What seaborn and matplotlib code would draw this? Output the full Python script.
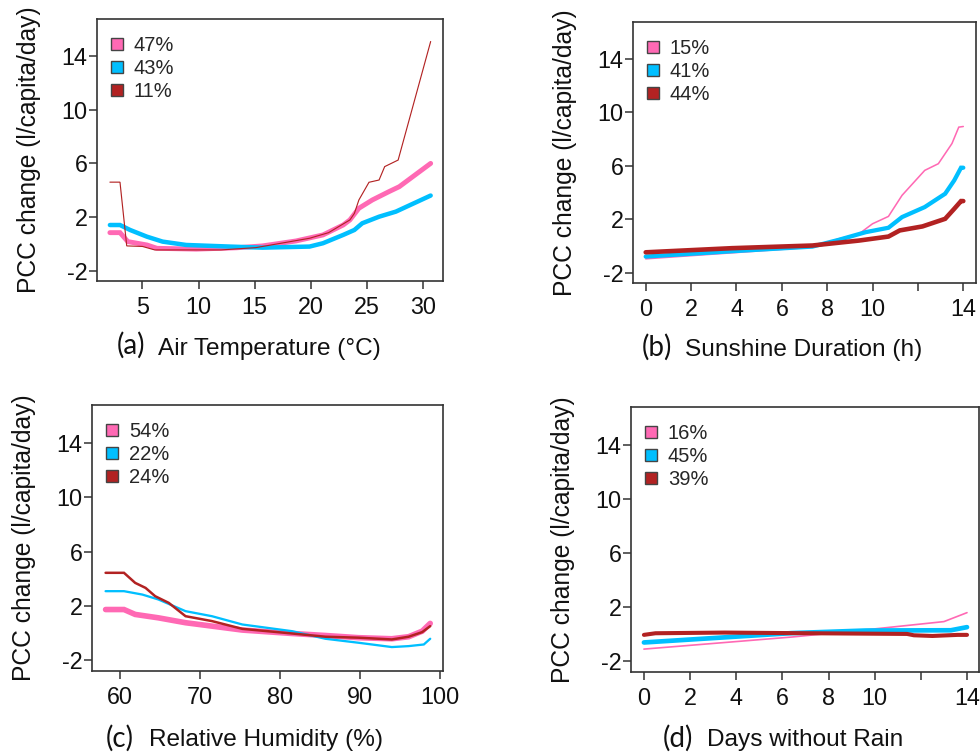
import matplotlib
matplotlib.use("Agg")
import matplotlib.pyplot as plt
from matplotlib.lines import Line2D
import pandas as pd
import seaborn as sns

# ---- (a) air temperature -------------------------------------------------
a_shares = [47, 43, 11]
a_pink_x = [2.1, 3.0, 3.7, 5.4, 6.3, 9.8, 13.4, 15.7, 18.7, 21.1, 22.9, 23.5, 24.3, 25.5, 27.0, 27.9, 30.7]
a_pink_y = [0.83, 0.83, 0.16, -0.09, -0.34, -0.40, -0.30, -0.16, 0.21, 0.66, 1.40, 1.78, 2.65, 3.27, 3.90, 4.26, 6.0]
a_blue_x = [2.1, 3.0, 3.9, 5.4, 6.8, 8.9, 12.8, 15.7, 19.9, 21.1, 22.9, 23.9, 24.6, 26.1, 27.6, 30.7]
a_blue_y = [1.40, 1.40, 1.03, 0.53, 0.16, -0.09, -0.21, -0.29, -0.21, 0.04, 0.66, 1.03, 1.53, 2.02, 2.40, 3.60]
a_red_x = [2.1, 3.0, 3.6, 5.0, 6.1, 12.0, 15.1, 19.9, 21.6, 23.5, 23.9, 24.3, 25.2, 26.1, 26.6, 27.8, 30.7]
a_red_y = [4.6, 4.6, -0.16, -0.2, -0.46, -0.46, -0.29, 0.41, 0.83, 1.78, 2.27, 3.27, 4.59, 4.76, 5.76, 6.25, 15.1]
a_ticks = [5, 10, 15, 20, 25, 30]
a_ticklabels = ["5", "10", "15", "20", "25", "30"]

# ---- (b) sunshine duration -----------------------------------------------
b_shares = [15, 41, 44]
b_pink_x = [0, 7.35, 8.5, 9.4, 10.0, 10.7, 11.3, 12.3, 12.9, 13.5, 13.8, 14.0]
b_pink_y = [-0.97, -0.10, 0.53, 0.90, 1.66, 2.21, 3.79, 5.66, 6.16, 7.67, 8.90, 8.95]
b_blue_x = [0, 3.8, 7.35, 8.5, 9.7, 10.7, 11.3, 12.3, 13.2, 13.6, 13.9, 14.0]
b_blue_y = [-0.80, -0.40, -0.05, 0.45, 1.03, 1.36, 2.16, 2.91, 3.91, 4.91, 5.86, 5.86]
b_red_x = [0, 3.8, 7.35, 9.4, 10.7, 11.2, 12.2, 13.2, 13.6, 13.9, 14.0]
b_red_y = [-0.48, -0.17, 0.03, 0.40, 0.70, 1.16, 1.46, 2.03, 2.78, 3.36, 3.36]
b_ticks = [0, 2, 4, 6, 8, 10, 12, 14]
b_ticklabels = ["0", "2", "4", "6", "8", "10", "", "14"]

# ---- (c) relative humidity -----------------------------------------------
c_shares = [54, 22, 24]
c_pink_x = [58.2, 60.5, 61.9, 64.8, 68.2, 71.5, 75.3, 81.5, 85.7, 89.8, 94.0, 96.1, 97.8, 98.8]
c_pink_y = [1.74, 1.74, 1.38, 1.13, 0.77, 0.52, 0.23, -0.02, -0.17, -0.33, -0.41, -0.26, 0.15, 0.72]
c_blue_x = [58.2, 60.5, 62.8, 64.8, 68.2, 71.5, 75.3, 81.5, 85.7, 89.8, 94.0, 96.1, 98.0, 98.8]
c_blue_y = [3.09, 3.09, 2.84, 2.48, 1.62, 1.25, 0.64, 0.15, -0.41, -0.70, -1.02, -0.95, -0.83, -0.41]
c_red_x = [58.2, 60.5, 61.9, 63.2, 64.4, 66.1, 68.2, 71.5, 75.3, 81.5, 85.7, 89.8, 94.0, 96.1, 97.8, 98.8]
c_red_y = [4.44, 4.44, 3.70, 3.33, 2.72, 2.23, 1.25, 0.89, 0.32, -0.02, -0.26, -0.33, -0.46, -0.26, 0.08, 0.52]
c_ticks = [60, 70, 80, 90, 100]
c_ticklabels = ["60", "70", "80", "90", "100"]

# ---- (d) days without rain -----------------------------------------------
d_shares = [16, 45, 39]
d_pink_x = [0, 6.4, 9.6, 13.0, 14.0]
d_pink_y = [-1.09, -0.20, 0.33, 0.94, 1.60]
d_blue_x = [0, 6.4, 9.6, 13.3, 14.0]
d_blue_y = [-0.60, 0.09, 0.28, 0.30, 0.53]
d_red_x = [0, 0.5, 3.5, 6.4, 11.4, 11.7, 12.5, 13.6, 14.0]
d_red_y = [-0.04, 0.08, 0.13, 0.09, 0.03, -0.07, -0.12, -0.04, -0.04]
d_ticks = [0, 2, 4, 6, 8, 10, 12, 14]
d_ticklabels = ["0", "2", "4", "6", "8", "10", "", "14"]

y_ticks = [-2, 2, 6, 10, 14]
y_label = "PCC change (l/capita/day)"
series_colors = ["#FF69B4", "#00BFFF", "#B22222"]

sns.set_theme(style="white")
plt.rcParams["font.family"] = ["Liberation Sans", "DejaVu Sans"]

W, H = 980, 755
fig = plt.figure(figsize=(W / 100, H / 100), dpi=100)


def px_box(left, top, right, bottom):
    return [left / W, 1 - bottom / H, (right - left) / W, (bottom - top) / H]


panels = [
    dict(box=(97, 19, 443, 281), shares=a_shares,
         xs=[a_pink_x, a_blue_x, a_red_x], ys=[a_pink_y, a_blue_y, a_red_y],
         ticks=a_ticks, ticklabels=a_ticklabels, xlim=(0.95, 31.8),
         tag="(a)", xlabel="Air Temperature (\u00b0C)", tag_xy=(117, 345), lab_xy=(158, 349)),
    dict(box=(633, 22, 976, 283), shares=b_shares,
         xs=[b_pink_x, b_blue_x, b_red_x], ys=[b_pink_y, b_blue_y, b_red_y],
         ticks=b_ticks, ticklabels=b_ticklabels, xlim=(-0.56, 14.56),
         tag="(b)", xlabel="Sunshine Duration (h)", tag_xy=(642, 347), lab_xy=(685, 350)),
    dict(box=(92, 405, 443, 671), shares=c_shares,
         xs=[c_pink_x, c_blue_x, c_red_x], ys=[c_pink_y, c_blue_y, c_red_y],
         ticks=c_ticks, ticklabels=c_ticklabels, xlim=(56.5, 100.4),
         tag="(c)", xlabel="Relative Humidity (%)", tag_xy=(106, 738), lab_xy=(149, 740)),
    dict(box=(631, 407, 979, 672), shares=d_shares,
         xs=[d_pink_x, d_blue_x, d_red_x], ys=[d_pink_y, d_blue_y, d_red_y],
         ticks=d_ticks, ticklabels=d_ticklabels, xlim=(-0.56, 14.52),
         tag="(d)", xlabel="Days without Rain", tag_xy=(663, 738), lab_xy=(707, 740)),
]

for p in panels:
    left, top, right, bottom = p["box"]
    w_px, h_px = right - left, bottom - top
    ax = fig.add_axes(px_box(*p["box"]))
    frames = []
    for i, (x, y) in enumerate(zip(p["xs"], p["ys"])):
        frames.append(pd.DataFrame({"x": x, "y": y, "series": i}))
    df = pd.concat(frames, ignore_index=True)
    # line width grows with the share of each cluster
    widths = {i: s * 0.075 for i, s in enumerate(p["shares"])}
    sns.lineplot(data=df, x="x", y="y", hue="series", size="series",
                 palette=dict(enumerate(series_colors)), sizes=widths,
                 estimator=None, sort=False, legend=False, ax=ax,
                 solid_joinstyle="miter")

    ax.set_xlim(*p["xlim"])
    ax.set_ylim(-2.78, 16.78)
    ax.set_xticks(p["ticks"])
    ax.set_xticklabels(p["ticklabels"])
    ax.set_yticks(y_ticks)
    ax.set_yticklabels([str(v) for v in y_ticks])
    ax.set_xlabel("")
    ax.set_ylabel(y_label, fontsize=17.7, va="center", color="#111111")
    ax.yaxis.set_label_coords(-68 / w_px, 0.5)
    for sp in ax.spines.values():
        sp.set_visible(True)
        sp.set_color("#333333")
        sp.set_linewidth(1.2)
    ax.tick_params(axis="both", direction="out", length=6, width=1.1,
                   color="#333333", labelsize=16.8, labelcolor="#111111")
    ax.tick_params(axis="x", pad=5, bottom=True)
    ax.tick_params(axis="y", pad=1, left=True)

    handles = [Line2D([], [], marker="s", linestyle="none", markersize=8,
                      markerfacecolor=c, markeredgecolor="#444444",
                      markeredgewidth=1.0) for c in series_colors]
    ax.legend(handles, [f"{s}%" for s in p["shares"]], loc="upper left",
              bbox_to_anchor=(8.3 / w_px, 1 - 13.3 / h_px), borderaxespad=0,
              frameon=False, fontsize=14.5, handlelength=0.8, handletextpad=0.42,
              labelspacing=0.18, borderpad=0.2)

    tx, ty = p["tag_xy"]
    fig.text(tx / W, 1 - ty / H, p["tag"], fontsize=20, family=["Lato", "DejaVu Sans"],
             ha="left", va="center", color="#111111")
    lx, ly = p["lab_xy"]
    fig.text(lx / W, 1 - ly / H, p["xlabel"], fontsize=17.6, ha="left", va="center",
             color="#111111")

fig.savefig("out.png", dpi=100, facecolor="white")
